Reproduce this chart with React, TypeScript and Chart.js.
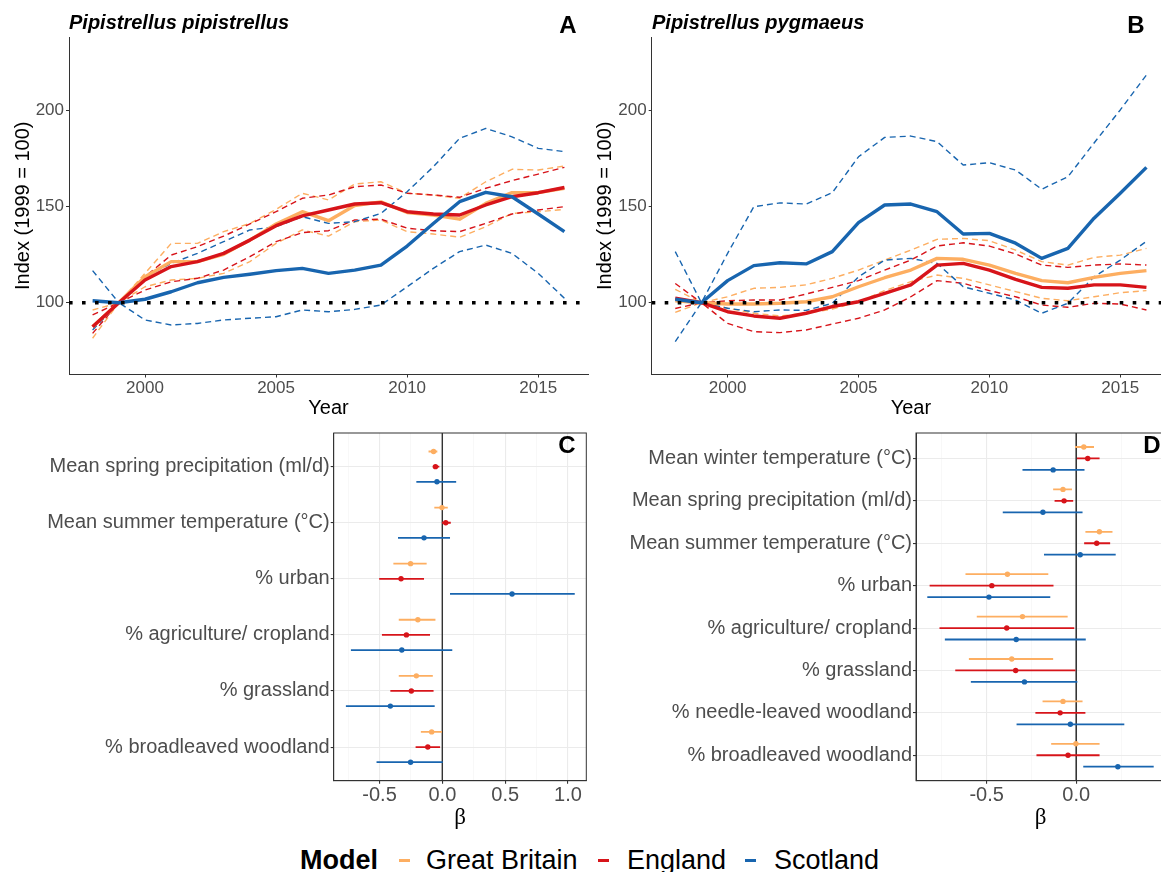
import React, { useEffect, useRef } from "react";
import { Chart, registerables } from "chart.js";

Chart.register(...registerables);

const FONT = "'Liberation Sans', Arial, Helvetica, sans-serif";
Chart.defaults.font.family = FONT;

// ---------- Trend panels (A, B) ----------
const YEARS = [1998, 1999, 2000, 2001, 2002, 2003, 2004, 2005, 2006, 2007, 2008, 2009, 2010, 2011, 2012, 2013, 2014, 2015, 2016];

// A: Pipistrellus pipistrellus
const A_GB = [87.5, 100, 113.5, 121.4, 121.4, 125.2, 132.6, 141, 147.4, 142.7, 150.6, 152.5, 147, 145.7, 143.5, 151.7, 157.3, 157.3, 159.6];
const A_GB_LO = [81.5, 100, 108.3, 111.8, 112.7, 115.3, 121.4, 130.9, 137.9, 134.7, 142.2, 143.1, 137, 135.8, 134.1, 139.6, 146.5, 147.4, 148.6];
const A_GB_HI = [96.2, 100, 115.3, 130.9, 130.9, 137, 141.3, 148.6, 157, 153.5, 161.8, 163, 157, 156.1, 154.4, 163, 169.5, 169.1, 171.2];
const A_EN = [87.5, 100, 111.8, 118.8, 121.4, 125.7, 132.6, 140.1, 145.2, 148.3, 151.4, 152.1, 147.4, 146.2, 145.7, 150.9, 155.2, 157.3, 160];
const A_EN_LO = [84, 100, 106.6, 110.9, 112.7, 117, 124, 131.8, 136.5, 137.5, 143.1, 143.5, 138.8, 137.5, 137, 141.3, 146.2, 148.3, 150];
const A_EN_HI = [93.6, 100, 113.5, 124.8, 129.2, 134.7, 141, 147.4, 154.4, 156.1, 160.4, 161.3, 157, 156.1, 154.9, 159.6, 163.6, 167, 170.5];
const A_SC = [101, 100, 101.8, 105.7, 110.4, 113.2, 114.8, 116.7, 117.9, 115.3, 117, 119.6, 129.5, 141.3, 152.6, 157.5, 155.2, 146.2, 137];
const A_SC_LO = [85.8, 100, 91, 88.4, 89.2, 91, 91.9, 92.7, 96.2, 95.3, 96.5, 98.8, 108.3, 117.9, 126.6, 130, 125.7, 115.3, 102.3];
const A_SC_HI = [116.7, 100, 113.5, 120.5, 125.7, 131.8, 137.9, 139.6, 144.8, 141.3, 142.2, 146.5, 157.8, 170.8, 185.6, 190.8, 186.4, 180.4, 178.7];

// B: Pipistrellus pygmaeus
const B_GB = [101, 100, 99.3, 99.3, 99.7, 100.5, 103.1, 108.3, 113, 117, 123.1, 122.6, 119.6, 115.3, 111.5, 110.4, 113.2, 115.3, 116.7];
const B_GB_LO = [95, 100, 97.1, 94.5, 93.1, 94.5, 96.7, 100.5, 106.3, 111, 114.4, 112.7, 109.3, 105.8, 102.3, 101, 103.1, 105.2, 106.3];
const B_GB_HI = [107, 100, 103.1, 107.5, 108, 109.3, 112.7, 117, 122.2, 127.4, 133, 133.5, 132.3, 127.4, 121.4, 119.6, 123.6, 124.8, 128.3];
const B_EN = [102.3, 100, 95.3, 93.1, 91.9, 94.5, 98, 100.5, 104.9, 109.3, 119.6, 120.5, 117, 112.2, 108, 107.5, 109.3, 109.3, 108];
const B_EN_LO = [97, 100, 89.2, 84.9, 84.4, 85.8, 88.9, 91.9, 96.2, 103.1, 111.5, 110.1, 106.3, 103.1, 98.8, 97.6, 99.7, 99.3, 96.2];
const B_EN_HI = [110, 100, 101, 101.4, 101.4, 104.5, 108, 111.5, 117, 122.2, 129.5, 131.2, 129.5, 125.4, 119.6, 118.4, 119.6, 120.2, 119.6];
const B_SC = [101.8, 100, 111.5, 119.3, 120.8, 120.2, 126.6, 141.7, 150.9, 151.4, 147.4, 135.8, 136.1, 131, 123.1, 128.3, 144, 157, 170.5];
const B_SC_LO = [79.7, 100, 97.1, 95.3, 96.2, 96, 99.7, 113.5, 122.2, 123.1, 120.5, 108.3, 104.9, 101.4, 94.5, 99.7, 113.5, 122.2, 132];
const B_SC_HI = [126.6, 100, 125.7, 150, 152, 151.4, 157.3, 176, 186.1, 186.8, 183.9, 171.7, 172.9, 169.1, 159.1, 165.6, 183.2, 200.4, 218.6];

const X_LIM_AB = [1997.1, 2016.9];
const Y_LIM_AB = [62.6, 238.4];
const REF_INDEX = 100;

// ---------- Effect panels (C, D) ----------
const C_CATS = ["Mean spring precipitation (ml/d)", "Mean summer temperature (°C)", "% urban", "% agriculture/ cropland", "% grassland", "% broadleaved woodland"];
const C_GB_EST = [-0.07, -0.003, -0.253, -0.195, -0.207, -0.085];
const C_GB_LO = [-0.11, -0.064, -0.39, -0.347, -0.347, -0.171];
const C_GB_HI = [-0.04, 0.043, -0.125, -0.055, -0.076, -0.003];
const C_EN_EST = [-0.055, 0.027, -0.329, -0.286, -0.247, -0.116];
const C_EN_LO = [-0.076, -0.003, -0.503, -0.481, -0.414, -0.213];
const C_EN_HI = [-0.024, 0.067, -0.146, -0.098, -0.07, -0.018];
const C_SC_EST = [-0.043, -0.146, 0.555, -0.323, -0.414, -0.253];
const C_SC_LO = [-0.207, -0.353, 0.061, -0.728, -0.768, -0.524];
const C_SC_HI = [0.11, 0.061, 1.054, 0.079, -0.061, 0.003];

const D_CATS = ["Mean winter temperature (°C)", "Mean spring precipitation (ml/d)", "Mean summer temperature (°C)", "% urban", "% agriculture/ cropland", "% grassland", "% needle-leaved woodland", "% broadleaved woodland"];
const D_GB_EST = [0.042, -0.074, 0.129, -0.384, -0.3, -0.36, -0.074, -0.002];
const D_GB_LO = [-0.007, -0.129, 0.051, -0.618, -0.555, -0.599, -0.188, -0.14];
const D_GB_HI = [0.099, -0.024, 0.202, -0.156, -0.048, -0.129, 0.035, 0.13];
const D_EN_EST = [0.064, -0.068, 0.114, -0.471, -0.388, -0.338, -0.09, -0.046];
const D_EN_LO = [0.004, -0.121, 0.044, -0.818, -0.763, -0.675, -0.228, -0.222];
const D_EN_HI = [0.13, -0.017, 0.189, -0.127, -0.011, -0.004, 0.051, 0.13];
const D_SC_EST = [-0.129, -0.186, 0.022, -0.487, -0.335, -0.289, -0.033, 0.232];
const D_SC_LO = [-0.3, -0.41, -0.18, -0.831, -0.733, -0.588, -0.333, 0.039];
const D_SC_HI = [0.046, 0.035, 0.22, -0.145, 0.053, 0.006, 0.268, 0.432];

const X_LIM_C = [-0.865, 1.146];
const X_LIM_D = [-0.894, 0.495];

const MODELS = ["Great Britain", "England", "Scotland"];
const ORANGE = "#FDAE61";
const RED = "#D7141A";
const BLUE = "#1865AF";
const MODEL_COLORS = [ORANGE, RED, BLUE];
const DODGE = [-0.27, 0, 0.27];

const TICK_COLOR = "#4D4D4D";
const AXIS_COLOR = "#333333";

const toXY = (ys: number[]) => YEARS.map((x, i) => ({ x, y: ys[i] }));

function trendLine(ys: number[], color: string, width: number, dash: number[] = []) {
  return {
    data: toXY(ys),
    borderColor: color,
    backgroundColor: color,
    borderWidth: width,
    borderDash: dash,
    borderCapStyle: "butt",
    borderJoinStyle: "round",
    pointRadius: 0,
    tension: 0,
    fill: false,
  };
}

function makeTrendChart(canvas: HTMLCanvasElement, s: any, yAxisWidth: number, padRight: number) {
  const datasets: any[] = [
    {
      data: [{ x: X_LIM_AB[0], y: REF_INDEX }, { x: X_LIM_AB[1], y: REF_INDEX }],
      borderColor: "#000",
      borderWidth: 3.6,
      borderDash: [3.6, 9.4],
      borderCapStyle: "butt",
      pointRadius: 0,
      fill: false,
    },
    trendLine(s.sc, BLUE, 3.4),
    trendLine(s.en, RED, 3.4),
    trendLine(s.gb, ORANGE, 3.4),
    trendLine(s.scLo, BLUE, 1.4, [6, 4]),
    trendLine(s.scHi, BLUE, 1.4, [6, 4]),
    trendLine(s.enLo, RED, 1.4, [6, 4]),
    trendLine(s.enHi, RED, 1.4, [6, 4]),
    trendLine(s.gbLo, ORANGE, 1.4, [6, 4]),
    trendLine(s.gbHi, ORANGE, 1.4, [6, 4]),
  ];
  return new Chart(canvas, {
    type: "line",
    data: { datasets },
    options: {
      responsive: false,
      maintainAspectRatio: false,
      animation: false,
      layout: { padding: { top: 37, right: padRight, left: 0, bottom: 0 } },
      plugins: { legend: { display: false }, tooltip: { enabled: false } },
      scales: {
        x: {
          type: "linear",
          min: X_LIM_AB[0],
          max: X_LIM_AB[1],
          afterFit: (sc: any) => { sc.height = 45.5; },
          ticks: {
            stepSize: 5,
            includeBounds: false,
            autoSkip: false,
            maxRotation: 0,
            padding: 1,
            color: TICK_COLOR,
            font: { size: 17, family: FONT },
            callback: (v: any) => String(v),
          },
          grid: { display: true, drawOnChartArea: false, drawTicks: true, tickLength: 3, tickColor: AXIS_COLOR, color: AXIS_COLOR },
          border: { display: true, color: AXIS_COLOR, width: 1 },
          title: { display: true, text: "Year", color: "#000", font: { size: 20, family: FONT }, padding: { top: 0, bottom: 0 } },
        },
        y: {
          type: "linear",
          min: Y_LIM_AB[0],
          max: Y_LIM_AB[1],
          afterFit: (sc: any) => { sc.width = yAxisWidth; },
          ticks: {
            stepSize: 50,
            includeBounds: false,
            padding: 2,
            color: TICK_COLOR,
            font: { size: 17, family: FONT },
            callback: (v: any) => String(v),
          },
          grid: { display: true, drawOnChartArea: false, drawTicks: true, tickLength: 3, tickColor: AXIS_COLOR, color: AXIS_COLOR },
          border: { display: true, color: AXIS_COLOR, width: 1 },
          title: { display: true, text: "Index (1999 = 100)", color: "#000", font: { size: 20, family: FONT }, padding: { top: 11.5, bottom: 0 } },
        },
      },
    } as any,
  });
}

const panelBox = {
  id: "panelBox",
  afterDraw(chart: any) {
    const { ctx, chartArea: a } = chart;
    ctx.save();
    ctx.strokeStyle = AXIS_COLOR;
    ctx.lineWidth = 1;
    ctx.strokeRect(a.left, a.top, a.right - a.left, a.bottom - a.top);
    ctx.restore();
  },
};

function makeEffectChart(canvas: HTMLCanvasElement, cats: string[], groups: any[], xLim: number[], yAxisWidth: number, padRight: number) {
  const n = cats.length;
  const points: any[] = [];
  const bars: any[] = [];
  groups.forEach((g, gi) => {
    const off = DODGE[gi];
    points.push({
      data: g.est.map((v: number, i: number) => ({ x: v, y: i + off })),
      showLine: false,
      pointRadius: 2.7,
      pointBackgroundColor: MODEL_COLORS[gi],
      pointBorderWidth: 0,
      borderColor: MODEL_COLORS[gi],
    });
    g.lo.forEach((lo: number, i: number) => {
      bars.push({
        data: [{ x: lo, y: i + off }, { x: g.hi[i], y: i + off }],
        borderColor: MODEL_COLORS[gi],
        borderWidth: 1.8,
        pointRadius: 0,
        fill: false,
      });
    });
  });
  const vline = {
    data: [{ x: 0, y: -0.6 }, { x: 0, y: n - 0.4 }],
    borderColor: AXIS_COLOR,
    borderWidth: 1,
    pointRadius: 0,
    fill: false,
  };
  const isMajor = (v: number) => Math.abs(v * 2 - Math.round(v * 2)) < 1e-6;
  return new Chart(canvas, {
    type: "line",
    data: { datasets: [...points, ...bars, vline] },
    options: {
      responsive: false,
      maintainAspectRatio: false,
      animation: false,
      layout: { padding: { top: 9.3, right: padRight, left: 0, bottom: 0 } },
      plugins: { legend: { display: false }, tooltip: { enabled: false } },
      scales: {
        x: {
          type: "linear",
          min: xLim[0],
          max: xLim[1],
          afterFit: (sc: any) => { sc.height = 59.3; },
          ticks: {
            stepSize: 0.25,
            includeBounds: false,
            autoSkip: false,
            maxRotation: 0,
            padding: 0,
            color: TICK_COLOR,
            font: { size: 20, family: FONT },
            callback: (v: any) => (isMajor(Number(v)) ? Number(v).toFixed(1) : ""),
          },
          grid: {
            display: true,
            drawTicks: true,
            tickLength: 3,
            color: (c: any) => (c.tick && isMajor(c.tick.value) ? "#EBEBEB" : "#F4F4F4"),
            lineWidth: (c: any) => (c.tick && isMajor(c.tick.value) ? 1.1 : 0.6),
            tickColor: (c: any) => (c.tick && isMajor(c.tick.value) ? AXIS_COLOR : "rgba(0,0,0,0)"),
          },
          border: { display: true, color: AXIS_COLOR, width: 1 },
          title: { display: true, text: "β", color: "#000", font: { size: 23, family: "'Liberation Serif', 'Times New Roman', serif" }, padding: { top: 0, bottom: 8 } },
        },
        y: {
          type: "linear",
          min: -0.6,
          max: n - 0.4,
          reverse: true,
          afterFit: (sc: any) => { sc.width = yAxisWidth; },
          ticks: {
            stepSize: 1,
            includeBounds: false,
            autoSkip: false,
            padding: 1,
            color: TICK_COLOR,
            font: { size: 20, family: FONT },
            callback: (v: any) => cats[Number(v)] ?? "",
          },
          grid: { display: true, drawTicks: true, tickLength: 3, color: "#EBEBEB", lineWidth: 1.1, tickColor: AXIS_COLOR },
          border: { display: true, color: AXIS_COLOR, width: 1 },
        },
      },
    } as any,
    plugins: [panelBox],
  });
}

export default function App() {
  const refA = useRef<HTMLCanvasElement>(null);
  const refB = useRef<HTMLCanvasElement>(null);
  const refC = useRef<HTMLCanvasElement>(null);
  const refD = useRef<HTMLCanvasElement>(null);

  useEffect(() => {
    const charts: Chart[] = [];
    charts.push(makeTrendChart(refA.current!, { gb: A_GB, gbLo: A_GB_LO, gbHi: A_GB_HI, en: A_EN, enLo: A_EN_LO, enHi: A_EN_HI, sc: A_SC, scLo: A_SC_LO, scHi: A_SC_HI }, 69, 12));
    charts.push(makeTrendChart(refB.current!, { gb: B_GB, gbLo: B_GB_LO, gbHi: B_GB_HI, en: B_EN, enLo: B_EN_LO, enHi: B_EN_HI, sc: B_SC, scLo: B_SC_LO, scHi: B_SC_HI }, 69.7, 0));
    charts.push(makeEffectChart(refC.current!, C_CATS, [
      { est: C_GB_EST, lo: C_GB_LO, hi: C_GB_HI },
      { est: C_EN_EST, lo: C_EN_LO, hi: C_EN_HI },
      { est: C_SC_EST, lo: C_SC_LO, hi: C_SC_HI },
    ], X_LIM_C, 333.7, 13.7));
    charts.push(makeEffectChart(refD.current!, D_CATS, [
      { est: D_GB_EST, lo: D_GB_LO, hi: D_GB_HI },
      { est: D_EN_EST, lo: D_EN_LO, hi: D_EN_HI },
      { est: D_SC_EST, lo: D_SC_LO, hi: D_SC_HI },
    ], X_LIM_D, 316, 0));
    return () => charts.forEach((c) => c.destroy());
  }, []);

  const abs = (l: number, t: number): React.CSSProperties => ({ position: "absolute", left: l, top: t });
  const titleStyle: React.CSSProperties = { fontFamily: FONT, fontSize: 20, lineHeight: "24px", fontWeight: "bold", fontStyle: "italic", color: "#000", whiteSpace: "nowrap" };
  const tagStyle: React.CSSProperties = { fontFamily: FONT, fontSize: 24, lineHeight: "28px", fontWeight: "bold", color: "#000", width: 40, textAlign: "center" };
  const legendText: React.CSSProperties = { fontFamily: FONT, fontSize: 27, lineHeight: "32px", color: "#000", whiteSpace: "nowrap" };
  const legendKeyX = [399, 598, 745];
  const legendTextX = [426, 627, 774];

  return (
    <div style={{ position: "absolute", left: 0, top: 0, width: 1161, height: 872, overflow: "hidden", background: "#fff" }}>
      <canvas ref={refA} width={600} height={420} style={abs(0, 0)} />
      <canvas ref={refB} width={588} height={420} style={abs(582, 0)} />
      <canvas ref={refC} width={600} height={420} style={abs(0, 420)} />
      <canvas ref={refD} width={569} height={420} style={abs(600, 420)} />

      <div style={{ ...abs(69, 10.3), ...titleStyle }}>Pipistrellus pipistrellus</div>
      <div style={{ ...abs(652, 10.3), ...titleStyle }}>Pipistrellus pygmaeus</div>

      <div style={{ ...abs(548, 11.3), ...tagStyle }}>A</div>
      <div style={{ ...abs(1116, 11.3), ...tagStyle }}>B</div>
      <div style={{ ...abs(547, 431.3), ...tagStyle }}>C</div>
      <div style={{ ...abs(1132, 431.3), ...tagStyle }}>D</div>

      <div style={{ ...abs(300, 844.3), ...legendText, fontWeight: "bold" }}>Model</div>
      {MODELS.map((m, i) => (
        <React.Fragment key={m}>
          <div style={{ ...abs(legendKeyX[i], 858.5), width: 11, height: 3, background: MODEL_COLORS[i] }} />
          <div style={{ ...abs(legendTextX[i], 844.3), ...legendText }}>{m}</div>
        </React.Fragment>
      ))}
    </div>
  );
}
